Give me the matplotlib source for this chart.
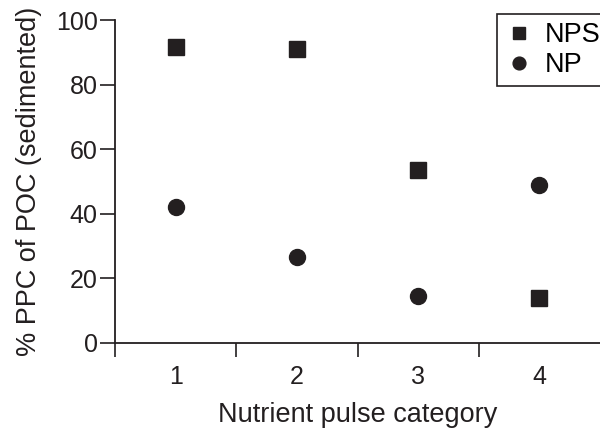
import matplotlib.pyplot as plt

plt.rcParams['font.family'] = ['Liberation Sans', 'DejaVu Sans']

categories = [1, 2, 3, 4]
nps = [91.5, 91.0, 53.5, 14.0]
np_vals = [42.2, 26.5, 14.6, 49.0]

ink = '#231f20'

fig = plt.figure(figsize=(6, 4.33), dpi=100)
ax = fig.add_axes([115 / 600, 1 - 343 / 433, 485 / 600, 323 / 433])

ax.plot(categories, nps, linestyle='none', marker='s', ms=11.5, color=ink, label='NPS')
ax.plot(categories, np_vals, linestyle='none', marker='o', ms=11.5, color=ink, label='NP')

ax.set_xlim(0.5, 4.5)
ax.set_ylim(0, 100)
ax.spines['top'].set_visible(False)
ax.spines['right'].set_visible(False)
for s in ('left', 'bottom'):
    ax.spines[s].set_linewidth(1.3)
    ax.spines[s].set_color(ink)

# ticks sit between categories, labels under each category
ax.set_xticks([0.5, 1.5, 2.5, 3.5])
ax.set_xticklabels([])
ax.set_xticks(categories, minor=True)
ax.set_xticklabels([str(c) for c in categories], minor=True)
ax.tick_params(axis='x', which='major', direction='out', length=10, width=1.2, color=ink)
ax.tick_params(axis='x', which='minor', length=0, pad=16, labelsize=18, labelcolor=ink)
ax.set_yticks([0, 20, 40, 60, 80, 100])
ax.tick_params(axis='y', direction='out', length=10.5, width=1.2, color=ink,
               labelsize=18, labelcolor=ink, pad=2)

ax.set_xlabel('Nutrient pulse category', fontsize=19.5, color=ink, labelpad=9)
ax.set_ylabel('% PPC of POC (sedimented)', fontsize=19.5, color=ink, labelpad=10)

leg = ax.legend(loc='upper left', bbox_to_anchor=(497 / 600, 1 - 14 / 433),
                bbox_transform=fig.transFigure, borderaxespad=0, fancybox=False,
                framealpha=1, edgecolor=ink, fontsize=19.5, handlelength=1.0,
                handletextpad=0.45, borderpad=0.3, labelspacing=0.15, markerscale=0.8)
leg.get_frame().set_linewidth(1.2)

fig.savefig('out.png', dpi=100, facecolor='white')
